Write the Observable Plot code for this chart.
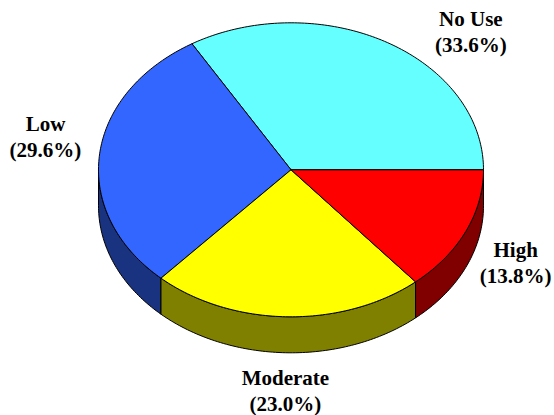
<!DOCTYPE html>
<html><head><meta charset="utf-8">
<style>
html,body{margin:0;padding:0;background:#fff;}
#warm{position:absolute;left:-9999px;top:0;font:bold 21px "Liberation Serif";}
#chart svg text, #chart svg tspan{font-family:"Liberation Serif","Times New Roman",serif;font-weight:bold;}
</style>
<script src="https://cdn.jsdelivr.net/npm/d3@7"></script>
<script src="https://cdn.jsdelivr.net/npm/@observablehq/plot@0.6"></script>
</head><body><div id="warm">No Use Low Moderate High (33.6%) (29.6%) (23.0%) (13.8%)</div><div id="chart"></div>
<script>
// ---- data ----
const categories = ["No Use", "Low", "Moderate", "High"];
const percents = [33.6, 29.6, 23.0, 13.8];
const percentLabels = ["(33.6%)", "(29.6%)", "(23.0%)", "(13.8%)"];
const topColors = ["#66FFFF", "#3366FF", "#FFFF00", "#FF0000"];
const sideColors = ["#338080", "#1A3380", "#808000", "#800000"];

// ---- geometry (pixel layout of the tilted pie) ----
const W = 554, H = 415;
const cx = 290.5, cy = 169.3, rx = 192.5, ry = 147, depthPx = 36;
const depth = depthPx / ry; // in y data units

const total = d3.sum(percents);
const slices = [];
let acc = 0;
percents.forEach((p, i) => {
  const a0 = acc / total * 360;
  acc += p;
  const a1 = acc / total * 360;
  slices.push({i, a0, a1, mid: (a0 + a1) / 2});
});
const rad = a => a * Math.PI / 180;

function arc(a0, a1, yOff) {
  const pts = [];
  const n = Math.max(2, Math.ceil(Math.abs(a1 - a0)));
  for (let k = 0; k <= n; k++) {
    const a = rad(a0 + (a1 - a0) * k / n);
    pts.push([Math.cos(a), Math.sin(a) - yOff]);
  }
  return pts;
}

const topPts = [], sidePts = [];
for (const s of slices) {
  const poly = [[0, 0], ...arc(s.a0, s.a1, 0), [0, 0]];
  poly.forEach(([x, y]) => topPts.push({id: s.i, x, y, fill: topColors[s.i]}));
  const s0 = Math.max(s.a0, 180), s1 = Math.min(s.a1, 360);
  if (s1 > s0) {
    const up = arc(s0, s1, 0), down = arc(s1, s0, depth);
    const sp = [...up, ...down, up[0]];
    sp.forEach(([x, y]) => sidePts.push({id: s.i, x, y, fill: sideColors[s.i]}));
  }
}

// label table: rim point at slice mid-angle
const labels = slices.map(s => ({
  i: s.i,
  x: Math.cos(rad(s.mid)),
  y: Math.sin(rad(s.mid)),
  text: categories[s.i] + "\n" + percentLabels[s.i]
}));
const labelOffsets = [[85, -11], [-54, -19], [-2, 73], [50, 30]];

const labelMarks = labels.map(l => Plot.text([l], {
  x: "x", y: "y", text: "text",
  dx: labelOffsets[l.i][0], dy: labelOffsets[l.i][1],
  fontFamily: "Liberation Serif", fontWeight: "bold", fontSize: 21,
  lineHeight: 1.22, fill: "black", textAnchor: "middle"
}));

const chart = Plot.plot({
  width: W, height: H, margin: 0,
  x: {domain: [-cx / rx, (W - cx) / rx], range: [0, W], axis: null},
  y: {domain: [cy / ry, (cy - H) / ry], range: [0, H], axis: null},
  color: {type: "identity"},
  style: {background: "white", fontFamily: "Liberation Serif"},
  marks: [
    Plot.line(sidePts, {x: "x", y: "y", z: "id", fill: "fill", stroke: "black", strokeWidth: 1, curve: "linear-closed"}),
    Plot.line(topPts, {x: "x", y: "y", z: "id", fill: "fill", stroke: "black", strokeWidth: 1, curve: "linear-closed"}),
    ...labelMarks
  ]
});
chart.querySelectorAll("text, tspan").forEach(t => {
  t.setAttribute("font-family", "Liberation Serif");
  t.style.fontFamily = "'Liberation Serif', 'Times New Roman', serif";
  t.style.fontWeight = "bold";
});
document.getElementById("chart").appendChild(chart);
</script>
</body></html>
